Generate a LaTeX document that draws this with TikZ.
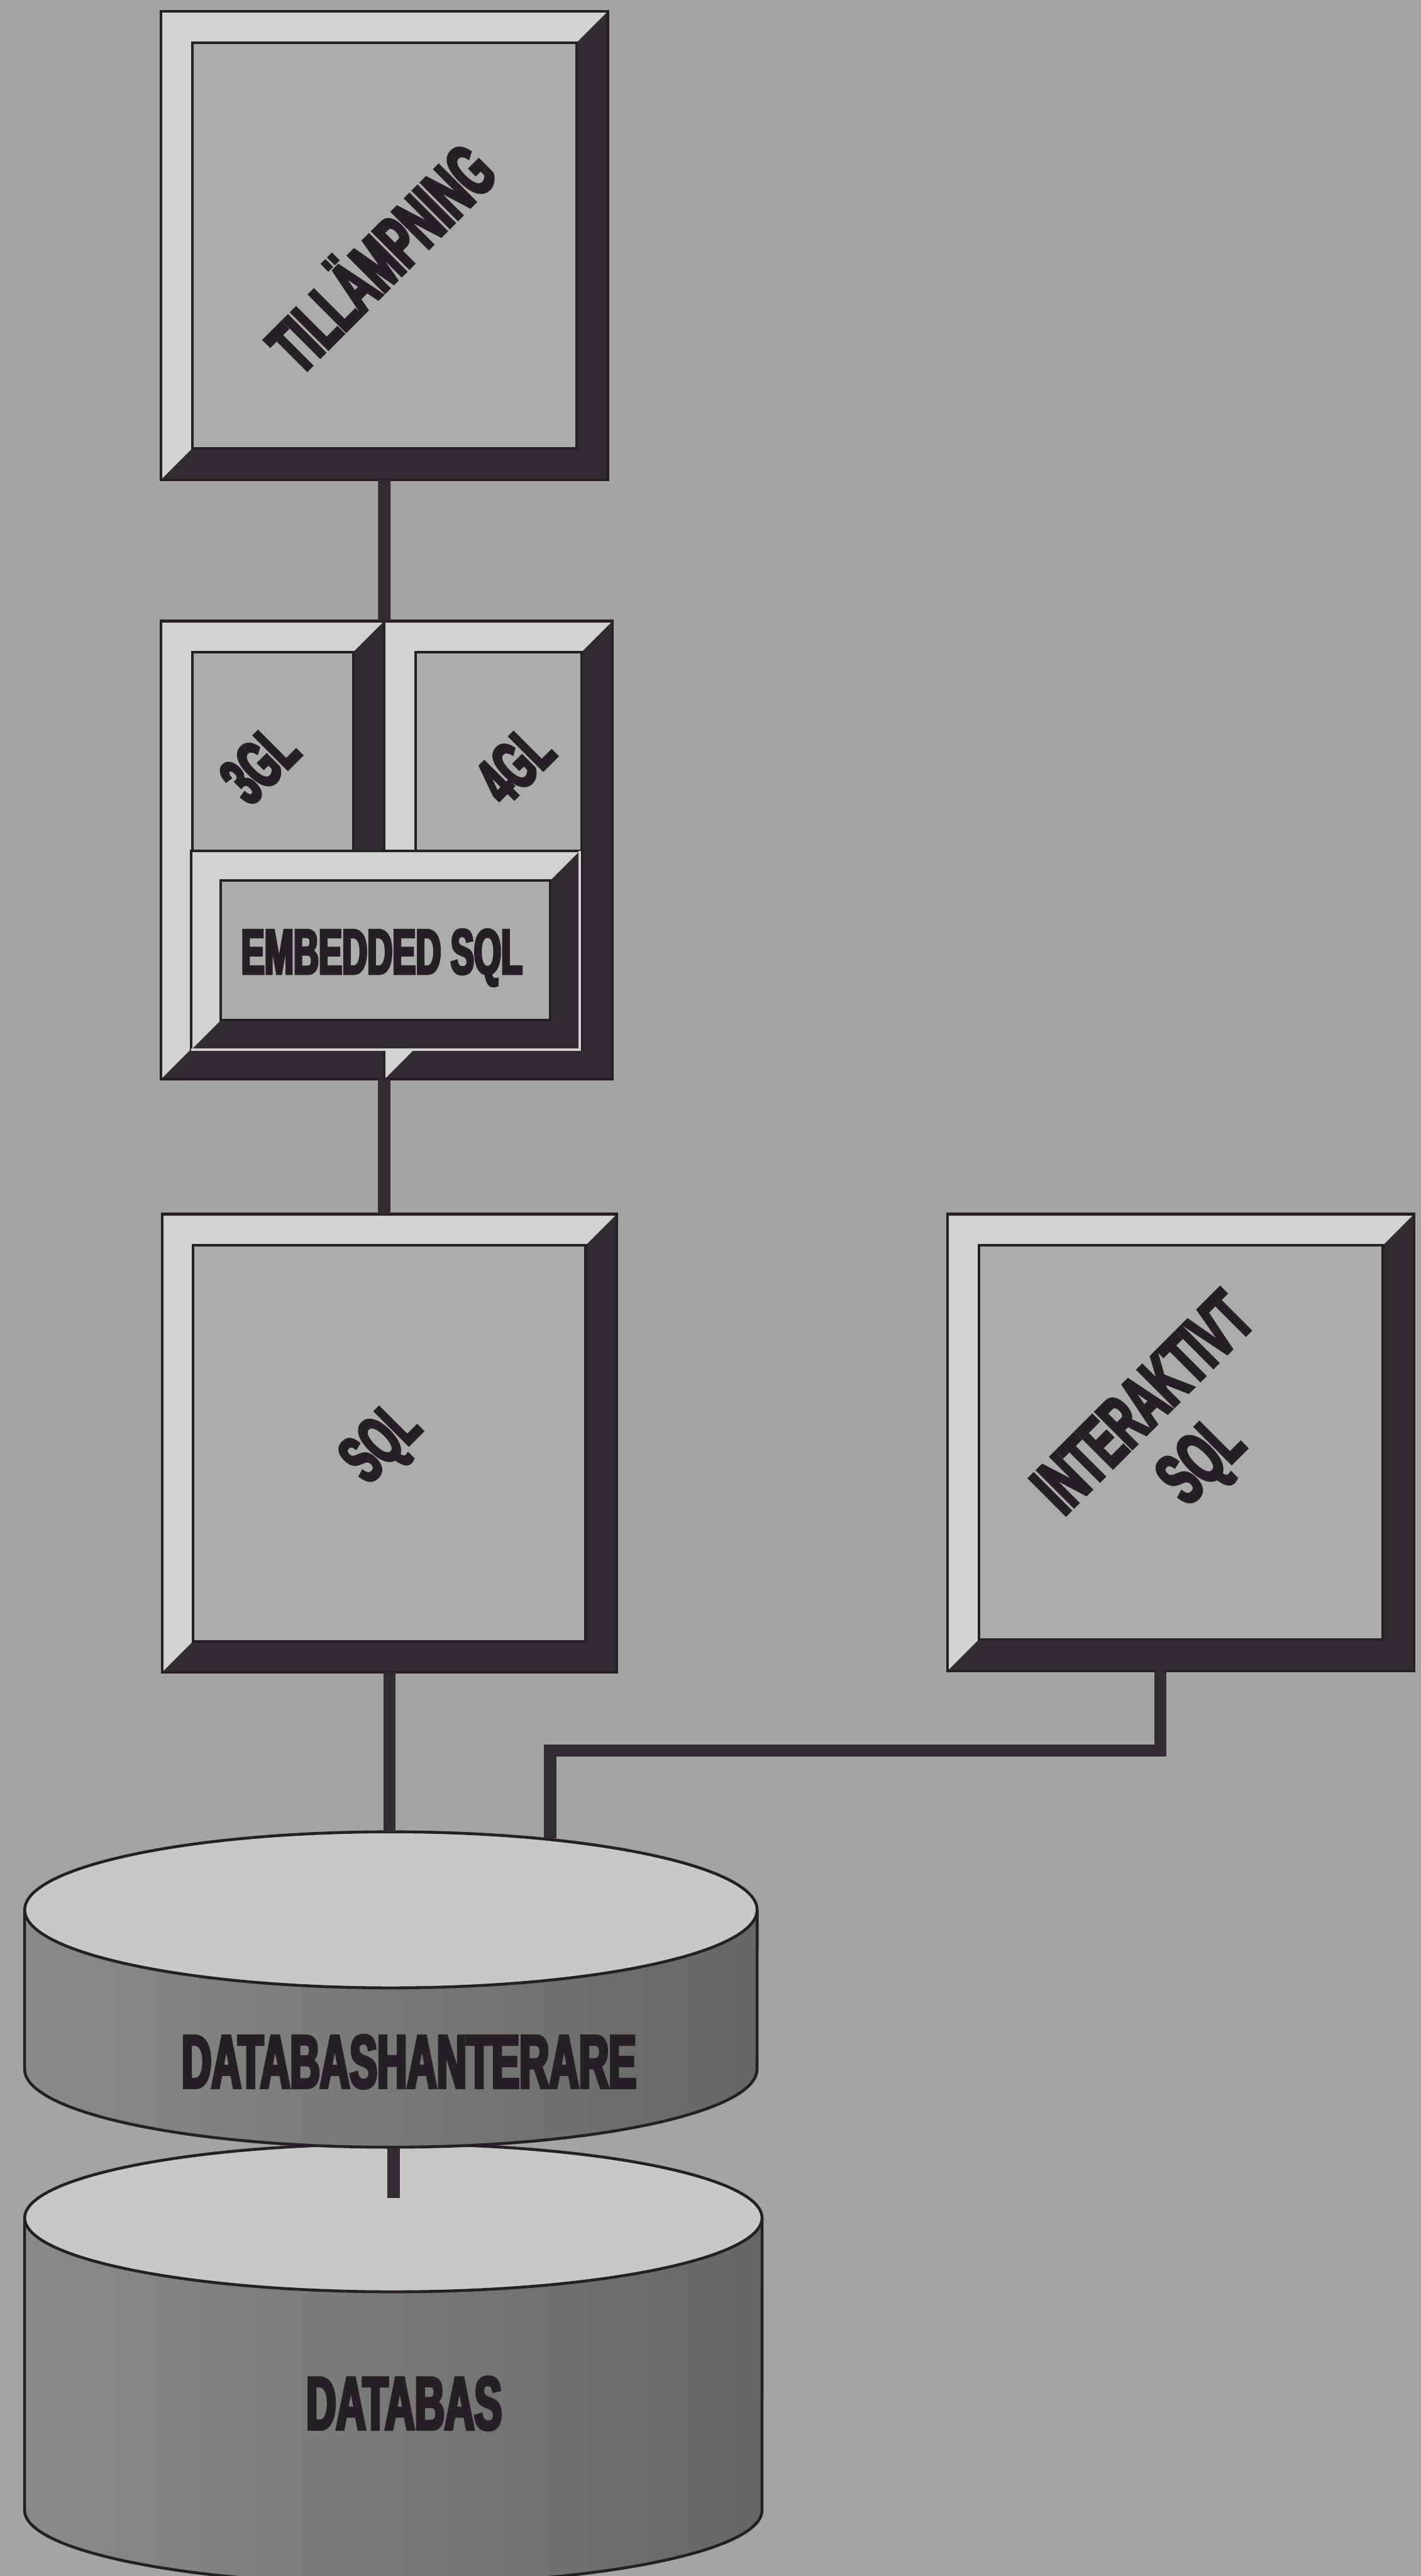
\documentclass[tikz,border=0pt]{standalone}
\usepackage{fontspec}
\newfontfamily\condfont[FakeStretch=0.55,FakeBold=4]{Liberation Sans}
\definecolor{paper}{RGB}{164,164,162}
\definecolor{face}{RGB}{172,172,170}
\definecolor{hilite}{RGB}{210,210,208}
\definecolor{shadow}{RGB}{50,44,50}
\definecolor{ink}{RGB}{36,32,38}
\definecolor{disctop}{RGB}{200,200,198}
\definecolor{discside}{RGB}{138,138,136}
\definecolor{discdark}{RGB}{102,102,102}
\tikzset{
  bevelbox/.style={draw=ink, line width=0.9pt, fill=hilite, inner sep=0pt, outer sep=0pt,
    path picture={
      \fill[shadow] (path picture bounding box.north east) -- (path picture bounding box.south east)
        -- (path picture bounding box.south west) -- ([shift={(#1,#1)}]path picture bounding box.south west)
        -- ([shift={(-#1,#1)}]path picture bounding box.south east)
        -- ([shift={(-#1,-#1)}]path picture bounding box.north east) -- cycle;
      \filldraw[fill=face, draw=ink, line width=0.9pt]
        ([shift={(#1,#1)}]path picture bounding box.south west)
        rectangle ([shift={(-#1,-#1)}]path picture bounding box.north east);
    }},
  bevelbox/.default=0.38cm,
  label/.style={text=ink, font=\condfont\bfseries\fontsize{26}{28}\selectfont, inner sep=0pt, align=center},
  tilt/.style={rotate=45},
  link/.style={draw=shadow, line width=4.3pt},
  rim/.style={draw=ink, line width=1pt}
}

\begin{document}
\begin{tikzpicture}[x=0.02cm, y=-0.02cm]
  \useasboundingbox[fill=paper] (0,0) rectangle (865,1568);

  % boxes
  \node[bevelbox, minimum width=5.44cm, minimum height=5.7cm] (app) at (234,149.5) {};
  \node[bevelbox, minimum width=2.72cm, minimum height=5.58cm] (gl3) at (166,517.5) {};
  \node[bevelbox, minimum width=2.78cm, minimum height=5.58cm] (gl4) at (303.5,517.5) {};
  \node[bevelbox=0.36cm, minimum width=4.73cm, minimum height=2.42cm] (emb) at (234.75,578.5) {};
  \draw[hilite, line width=0.9pt] (emb.north east) -- (emb.south east) -- (emb.south west);
  \node[bevelbox, minimum width=5.54cm, minimum height=5.58cm] (sql) at (237.1,878.5) {};
  \node[bevelbox, minimum width=5.68cm, minimum height=5.56cm] (isql) at (719,878) {};

  \node[label, tilt] (app-label) at (230,155) {TILLÄMPNING};
  \node[label, tilt, font=\condfont\bfseries\fontsize{24}{26}\selectfont] (gl3-label) at (158,465) {3GL};
  \node[label, tilt, font=\condfont\bfseries\fontsize{24}{26}\selectfont] (gl4-label) at (313.5,465.5) {4GL};
  \node[label, font=\condfont\bfseries\fontsize{22}{24}\selectfont] (emb-label) at (232.5,583) {EMBEDDED SQL};
  \node[label, tilt, font=\condfont\bfseries\fontsize{24}{26}\selectfont] (sql-label) at (233.5,880) {SQL};
  \node[label, tilt] (isql-label) at (716,874) {INTERAKTIVT\\SQL};

  % databas (back)
  \shade[left color=discside, right color=discdark] (15,1350) -- (15,1528)
    arc[start angle=180, end angle=360, x radius=4.49cm, y radius=0.9cm] -- (464,1350)
    arc[start angle=360, end angle=180, x radius=4.49cm, y radius=0.9cm] -- cycle;
  \draw[rim] (15,1350) -- (15,1528) arc[start angle=180, end angle=360, x radius=4.49cm, y radius=0.9cm] -- (464,1350);
  \filldraw[rim, fill=disctop] (239.5,1350) ellipse[x radius=4.49cm, y radius=0.9cm];
  \node[label] (db-label) at (246,1463) {DATABAS};

  % databashanterare (front)
  \shade[left color=discside, right color=discdark] (15,1162.5) -- (15,1259.5)
    arc[start angle=180, end angle=360, x radius=4.46cm, y radius=0.95cm] -- (461,1162.5)
    arc[start angle=360, end angle=180, x radius=4.46cm, y radius=0.95cm] -- cycle;
  \draw[rim] (15,1162.5) -- (15,1259.5) arc[start angle=180, end angle=360, x radius=4.46cm, y radius=0.95cm] -- (461,1162.5);
  \filldraw[rim, fill=disctop] (238,1162.5) ellipse[x radius=4.46cm, y radius=0.95cm];
  \node[label] (dbms-label) at (249,1255) {DATABASHANTERARE};

  \coordinate (dbms-top) at (238,1115);
  \coordinate (dbms-in) at (335,1119);
  \coordinate (isql-bend) at (335,1065.5);
  \coordinate (dbms-bottom) at (239.5,1307.5);
  \coordinate (db-socket) at (239.5,1338);

  % connectors
  \draw[link] (app.south) -- (gl3.north east);
  \draw[link] (gl3.south east) -- (gl3.south east |- sql.north);
  \draw[link] (sql.south) -- (sql.south |- dbms-top);
  \draw[link] ([xshift=-0.25cm]isql.south) |- (isql-bend) -- (dbms-in);
  \draw[link] (dbms-bottom) -- (db-socket);
\end{tikzpicture}
\end{document}
